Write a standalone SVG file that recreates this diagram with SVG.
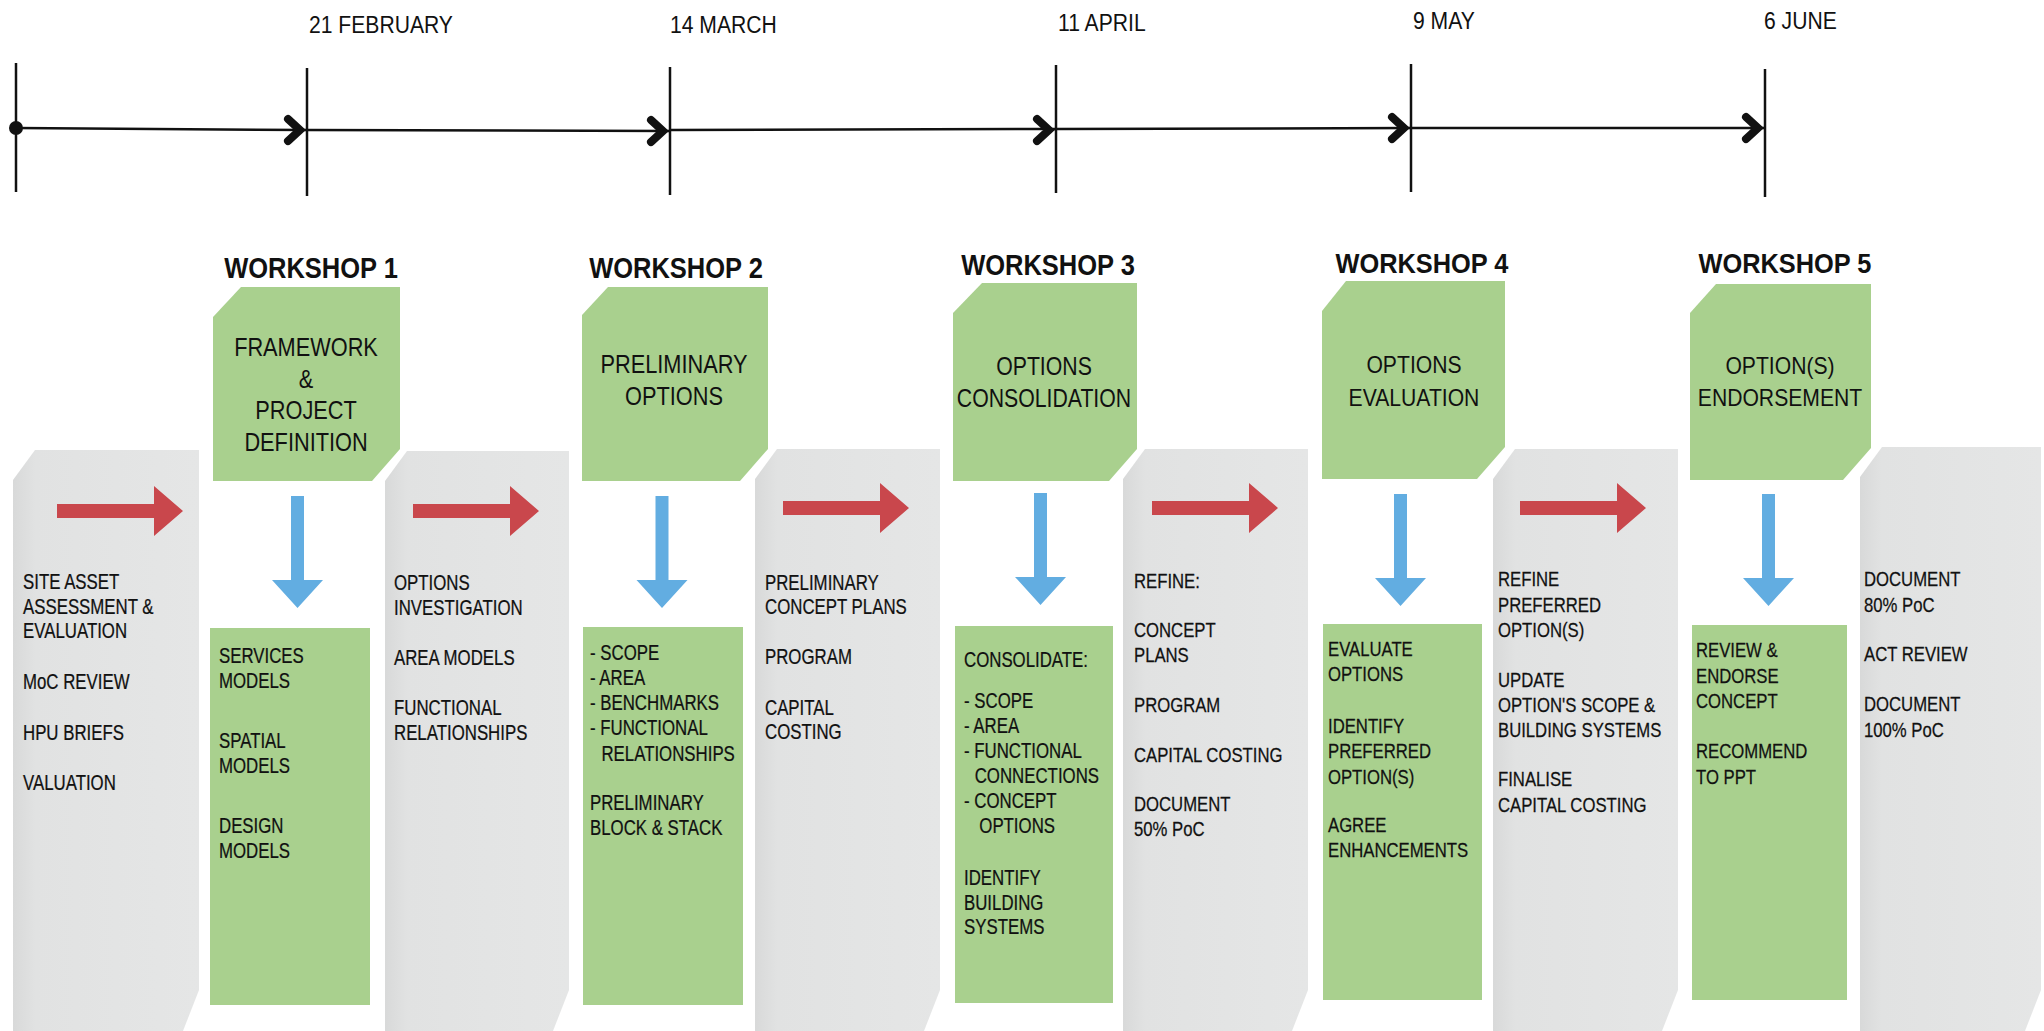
<svg xmlns="http://www.w3.org/2000/svg" width="2044" height="1031" viewBox="0 0 2044 1031">
<defs>
<style>
text{font-family:"Liberation Sans",Arial,sans-serif;fill:#111}
.date{font-size:24px}
.ws{font-size:30px;font-weight:bold;text-anchor:middle}
.wsb{font-size:27px;font-weight:bold;text-anchor:middle}
.hd{font-size:25px;text-anchor:middle}
.hdb{font-size:23px;text-anchor:middle}
.bd{font-size:22px;stroke:#111;stroke-width:0.25}
.bdb{font-size:20.5px;stroke:#111;stroke-width:0.25}
.tick{stroke:#111;stroke-width:2.5}
.seg{stroke:#111;stroke-width:2.5;fill:none}
.chev{stroke:#111;stroke-width:8;fill:none;stroke-linejoin:miter;stroke-miterlimit:4;stroke-linecap:round}
.gbox{fill:url(#gg)}
.green{fill:#a9d08e}
.red{fill:#c9474c}
.blue{fill:#62ade1}
</style>
<linearGradient id="gg" x1="0" y1="0" x2="1" y2="0">
<stop offset="0" stop-color="#d8d9d9"/>
<stop offset="0.12" stop-color="#e1e2e2"/>
<stop offset="1" stop-color="#e5e6e6"/>
</linearGradient>
<path id="ra" d="M0,-7H97V-25L126,0L97,25V7H0Z"/>
<path id="ba" d="M-6.5,0H6.5V84H25.5L0,112L-25.5,84H-6.5Z"/>
<path id="chev" d="M-19,-11L-7,0L-19,11"/>
</defs>
<rect width="2044" height="1031" fill="#fff"/>

<!-- timeline dates -->
<g id="date-start">
<line class="tick" x1="16" y1="63" x2="16" y2="192"/>
<circle cx="16" cy="128" r="7" fill="#111"/>
</g>
<g id="date-21-february">
<line class="tick" x1="307" y1="68" x2="307" y2="196"/>
<g transform="translate(309,0) scale(0.88,1)"><text class="date" x="0" y="33">21 FEBRUARY</text></g>
</g>
<g id="date-14-march">
<line class="tick" x1="670" y1="67" x2="670" y2="195"/>
<g transform="translate(670,0) scale(0.88,1)"><text class="date" x="0" y="33">14 MARCH</text></g>
</g>
<g id="date-11-april">
<line class="tick" x1="1056" y1="65" x2="1056" y2="193"/>
<g transform="translate(1058,0) scale(0.88,1)"><text class="date" x="0" y="31">11 APRIL</text></g>
</g>
<g id="date-9-may">
<line class="tick" x1="1411" y1="64" x2="1411" y2="192"/>
<g transform="translate(1413,0) scale(0.88,1)"><text class="date" x="0" y="29">9 MAY</text></g>
</g>
<g id="date-6-june">
<line class="tick" x1="1765" y1="69" x2="1765" y2="197"/>
<g transform="translate(1764,0) scale(0.88,1)"><text class="date" x="0" y="29">6 JUNE</text></g>
</g>

<!-- stage boxes (grey) -->
<g id="stage-1">
<path class="gbox" d="M13,480L35,450H199V990L183,1031H13Z"/>
<g transform="translate(23,0) scale(0.765,1)"><text class="bd">
<tspan x="0" y="589">SITE ASSET</tspan><tspan x="0" y="614">ASSESSMENT &amp;</tspan><tspan x="0" y="638">EVALUATION</tspan>
<tspan x="0" y="689">MoC REVIEW</tspan><tspan x="0" y="740">HPU BRIEFS</tspan><tspan x="0" y="790">VALUATION</tspan>
</text></g>
</g>
<g id="stage-2">
<path class="gbox" d="M385,481L407,451H569V990L553,1031H385Z"/>
<g transform="translate(394,0) scale(0.765,1)"><text class="bd">
<tspan x="0" y="590">OPTIONS</tspan><tspan x="0" y="615">INVESTIGATION</tspan>
<tspan x="0" y="665">AREA MODELS</tspan>
<tspan x="0" y="715">FUNCTIONAL</tspan><tspan x="0" y="740">RELATIONSHIPS</tspan>
</text></g>
</g>
<g id="stage-3">
<path class="gbox" d="M755,479L777,449H940V990L924,1031H755Z"/>
<g transform="translate(765,0) scale(0.765,1)"><text class="bd">
<tspan x="0" y="590">PRELIMINARY</tspan><tspan x="0" y="614">CONCEPT PLANS</tspan>
<tspan x="0" y="664">PROGRAM</tspan>
<tspan x="0" y="715">CAPITAL</tspan><tspan x="0" y="739">COSTING</tspan>
</text></g>
</g>
<g id="stage-4">
<path class="gbox" d="M1123,479L1145,449H1308V990L1292,1031H1123Z"/>
<g transform="translate(1134,0) scale(0.815,1)"><text class="bdb">
<tspan x="0" y="588">REFINE:</tspan>
<tspan x="0" y="637">CONCEPT</tspan><tspan x="0" y="662">PLANS</tspan>
<tspan x="0" y="712">PROGRAM</tspan>
<tspan x="0" y="762">CAPITAL COSTING</tspan>
<tspan x="0" y="811">DOCUMENT</tspan><tspan x="0" y="836">50% PoC</tspan>
</text></g>
</g>
<g id="stage-5">
<path class="gbox" d="M1493,479L1515,449H1678V990L1662,1031H1493Z"/>
<g transform="translate(1498,0) scale(0.815,1)"><text class="bdb">
<tspan x="0" y="586">REFINE</tspan><tspan x="0" y="612">PREFERRED</tspan><tspan x="0" y="637">OPTION(S)</tspan>
<tspan x="0" y="687">UPDATE</tspan><tspan x="0" y="712">OPTION'S SCOPE &amp;</tspan><tspan x="0" y="737">BUILDING SYSTEMS</tspan>
<tspan x="0" y="786">FINALISE</tspan><tspan x="0" y="812">CAPITAL COSTING</tspan>
</text></g>
</g>
<g id="stage-6">
<path class="gbox" d="M1860,477L1882,447H2041V990L2025,1031H1860Z"/>
<g transform="translate(1864,0) scale(0.815,1)"><text class="bdb">
<tspan x="0" y="586">DOCUMENT</tspan><tspan x="0" y="612">80% PoC</tspan>
<tspan x="0" y="661">ACT REVIEW</tspan>
<tspan x="0" y="711">DOCUMENT</tspan><tspan x="0" y="737">100% PoC</tspan>
</text></g>
</g>

<!-- workshops -->
<g id="workshop-1">
<g transform="translate(311,0) scale(0.85,1)"><text class="ws" x="0" y="278">WORKSHOP 1</text></g>
<path class="green" d="M213,317L241,287H400V449L372,481H213Z"/>
<g transform="translate(306,0) scale(0.87,1)"><text class="hd">
<tspan x="0" y="356">FRAMEWORK</tspan><tspan x="0" y="388">&amp;</tspan><tspan x="0" y="419">PROJECT</tspan><tspan x="0" y="451">DEFINITION</tspan>
</text></g>
<rect class="green" x="210" y="628" width="160" height="377"/>
<g transform="translate(219,0) scale(0.765,1)"><text class="bd">
<tspan x="0" y="663">SERVICES</tspan><tspan x="0" y="688">MODELS</tspan>
<tspan x="0" y="748">SPATIAL</tspan><tspan x="0" y="773">MODELS</tspan>
<tspan x="0" y="833">DESIGN</tspan><tspan x="0" y="858">MODELS</tspan>
</text></g>
</g>
<g id="workshop-2">
<g transform="translate(676,0) scale(0.85,1)"><text class="ws" x="0" y="278">WORKSHOP 2</text></g>
<path class="green" d="M582,315L608,287H768V449L740,481H582Z"/>
<g transform="translate(674,0) scale(0.87,1)"><text class="hd">
<tspan x="0" y="373">PRELIMINARY</tspan><tspan x="0" y="405">OPTIONS</tspan>
</text></g>
<rect class="green" x="583" y="627" width="160" height="378"/>
<g transform="translate(590,0) scale(0.765,1)"><text class="bd">
<tspan x="0" y="660">- SCOPE</tspan><tspan x="0" y="685">- AREA</tspan><tspan x="0" y="710">- BENCHMARKS</tspan><tspan x="0" y="735">- FUNCTIONAL</tspan><tspan x="15" y="761">RELATIONSHIPS</tspan>
<tspan x="0" y="810">PRELIMINARY</tspan><tspan x="0" y="835">BLOCK &amp; STACK</tspan>
</text></g>
</g>
<g id="workshop-3">
<g transform="translate(1048,0) scale(0.85,1)"><text class="ws" x="0" y="275">WORKSHOP 3</text></g>
<path class="green" d="M953,313L982,283H1137V449L1109,481H953Z"/>
<g transform="translate(1044,0) scale(0.85,1)"><text class="hd">
<tspan x="0" y="375">OPTIONS</tspan><tspan x="0" y="407">CONSOLIDATION</tspan>
</text></g>
<rect class="green" x="955" y="626" width="158" height="377"/>
<g transform="translate(964,0) scale(0.765,1)"><text class="bd">
<tspan x="0" y="667">CONSOLIDATE:</tspan>
<tspan x="0" y="708">- SCOPE</tspan><tspan x="0" y="733">- AREA</tspan><tspan x="0" y="758">- FUNCTIONAL</tspan><tspan x="14" y="783">CONNECTIONS</tspan><tspan x="0" y="808">- CONCEPT</tspan><tspan x="20" y="833">OPTIONS</tspan>
<tspan x="0" y="885">IDENTIFY</tspan><tspan x="0" y="910">BUILDING</tspan><tspan x="0" y="934">SYSTEMS</tspan>
</text></g>
</g>
<g id="workshop-4">
<g transform="translate(1422,0) scale(0.94,1)"><text class="wsb" x="0" y="273">WORKSHOP 4</text></g>
<path class="green" d="M1322,311L1346,281H1505V447L1477,479H1322Z"/>
<g transform="translate(1414,0) scale(0.92,1)"><text class="hdb">
<tspan x="0" y="373">OPTIONS</tspan><tspan x="0" y="406">EVALUATION</tspan>
</text></g>
<rect class="green" x="1323" y="624" width="159" height="376"/>
<g transform="translate(1328,0) scale(0.815,1)"><text class="bdb">
<tspan x="0" y="656">EVALUATE</tspan><tspan x="0" y="681">OPTIONS</tspan>
<tspan x="0" y="733">IDENTIFY</tspan><tspan x="0" y="758">PREFERRED</tspan><tspan x="0" y="784">OPTION(S)</tspan>
<tspan x="0" y="832">AGREE</tspan><tspan x="0" y="857">ENHANCEMENTS</tspan>
</text></g>
</g>
<g id="workshop-5">
<g transform="translate(1785,0) scale(0.94,1)"><text class="wsb" x="0" y="273">WORKSHOP 5</text></g>
<path class="green" d="M1690,313L1716,284H1871V448L1843,480H1690Z"/>
<g transform="translate(1780,0) scale(0.92,1)"><text class="hdb">
<tspan x="0" y="374">OPTION(S)</tspan><tspan x="0" y="406">ENDORSEMENT</tspan>
</text></g>
<rect class="green" x="1692" y="625" width="155" height="375"/>
<g transform="translate(1696,0) scale(0.815,1)"><text class="bdb">
<tspan x="0" y="657">REVIEW &amp;</tspan><tspan x="0" y="683">ENDORSE</tspan><tspan x="0" y="708">CONCEPT</tspan>
<tspan x="0" y="758">RECOMMEND</tspan><tspan x="0" y="784">TO PPT</tspan>
</text></g>
</g>

<!-- connectors -->
<g id="connectors">
<path class="seg" d="M16,128L307,130"/>
<path class="seg" d="M307,130L670,131"/>
<path class="seg" d="M670,130L1056,129"/>
<path class="seg" d="M1056,129L1411,128"/>
<path class="seg" d="M1411,128L1765,128"/>
<use href="#chev" class="chev" transform="translate(307,130)"/>
<use href="#chev" class="chev" transform="translate(670,131)"/>
<use href="#chev" class="chev" transform="translate(1056,130)"/>
<use href="#chev" class="chev" transform="translate(1411,128)"/>
<use href="#chev" class="chev" transform="translate(1765,128)"/>
<use href="#ra" class="red" transform="translate(57,511)"/>
<use href="#ra" class="red" transform="translate(413,511)"/>
<use href="#ra" class="red" transform="translate(783,508)"/>
<use href="#ra" class="red" transform="translate(1152,508)"/>
<use href="#ra" class="red" transform="translate(1520,508)"/>
<use href="#ba" class="blue" transform="translate(297.5,496)"/>
<use href="#ba" class="blue" transform="translate(662,496)"/>
<use href="#ba" class="blue" transform="translate(1040.5,493)"/>
<use href="#ba" class="blue" transform="translate(1400.5,494)"/>
<use href="#ba" class="blue" transform="translate(1768.5,494)"/>
</g>
</svg>
